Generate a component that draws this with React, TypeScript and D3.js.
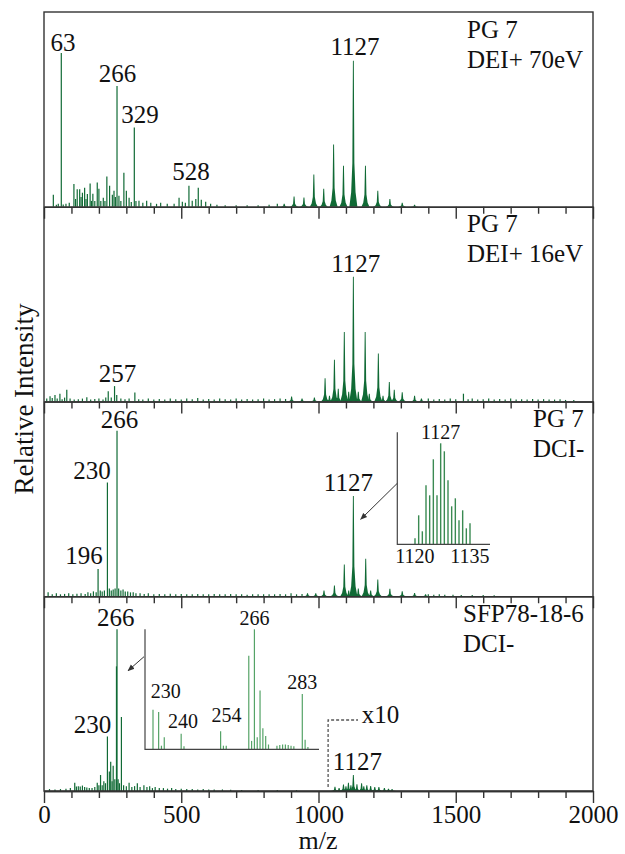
import { useEffect, useRef } from "react";
import * as d3 from "d3";

// [m/z, intensity as % of panel height]
const p1Lines = [[34,6.2],[45,1],[52,1.5],[63,79],[70,1.2],[80,1.5],[92,2],[109,11.7],[115,4],[121,9],[130,9],[135,5],[140,7.2],[148,9.8],[153,4],[158,6.5],[168,11.9],[173,3],[178,6.7],[185,3],[194,12.4],[200,9.3],[207,3],[216,4.6],[222,3],[229,15.5],[239,10.8],[249,6.2],[255,8.2],[260,5],[266,62],[273,5.7],[280,3],[291,17.4],[300,8.2],[310,4.6],[318,2.5],[329,40.7],[335,3],[346,3.1],[360,2],[374,3.1],[389,2],[410,1.5],[425,2],[449,1.5],[474,1.5],[492,4.6],[504,2.6],[515,2],[528,10.8],[540,3.1],[553,4],[562,9.8],[573,3.6],[589,2.6],[607,1.5],[630,1],[660,0.8],[700,0.8],[740,0.8],[780,0.8],[820,1],[850,1.5]];
const p1Cluster = [[875,1.5],[911,5.3],[947,4.8],[983,16.5],[1019,9.3],[1055,32],[1091,21],[1127,75],[1171,21],[1216,8.2],[1260,4],[1305,2],[1350,1]];

const p2Lines = [[10,1.5],[22,2.7],[30,1.8],[40,3.4],[48,1.5],[58,4],[66,1.2],[75,2],[83,6],[95,1.5],[110,1],[125,1.2],[140,1.5],[156,2.2],[170,1],[185,1.3],[200,1.5],[215,1],[225,2],[234,5.2],[245,2],[257,7.9],[265,3.4],[280,1.5],[295,1.2],[310,1.5],[331,4.6],[345,1.2],[360,1],[380,1.5],[400,1],[420,1.3],[440,1],[460,1.5],[480,1.2],[500,1],[520,1.5],[540,1.2],[560,1.8],[580,1],[600,1.3],[620,1],[640,1.5],[660,1.2],[680,1],[700,1.5],[720,1],[740,1.3],[760,1],[780,1.2],[800,1.5],[820,1],[840,1.2],[860,1.5],[880,1.3],[1400,1.5],[1420,1],[1440,1.3],[1460,1],[1480,1.5],[1500,1.2],[1528,4],[1545,1.2],[1560,1.5],[1580,1],[1600,1.2],[1620,1.5],[1640,1],[1660,1.3],[1680,1],[1700,1.5],[1720,1],[1740,1.2],[1760,1],[1780,1.3],[1800,1],[1820,1.2],[1840,1],[1860,1],[1880,1.2],[1900,0.8],[1930,0.8]];
const p2Cluster = [[902,2.6],[940,1.5],[985,2],[1024,12],[1040,3],[1058,21.5],[1072,6.5],[1094,35.7],[1110,5],[1127,64],[1145,5],[1170,35.7],[1185,4],[1218,24.6],[1235,3],[1258,10],[1276,6],[1305,4.8],[1350,3],[1375,1.5]];

const p3Lines = [[15,2],[30,1],[45,1.5],[60,1],[75,1.2],[90,1.5],[105,1],[120,1.3],[135,1.5],[150,1.2],[160,2],[170,1.5],[180,2.5],[190,2],[197,14],[205,3],[212,2.5],[220,3],[231,58.4],[238,4],[245,3],[252,3.5],[259,4],[266,85],[272,4],[280,3],[288,3.5],[296,2.5],[305,2.5],[315,2],[325,2],[335,1.5],[350,1.5],[365,1.2],[380,1.5],[400,1],[420,1.2],[440,1],[460,1.3],[480,1],[500,1.2],[520,1],[540,1],[560,1.2],[580,1],[600,1],[620,1.2],[640,1],[660,1],[680,1.2],[700,1],[720,1],[740,0.8],[760,1],[780,1],[800,1],[820,1],[840,1],[860,1.2],[880,1],[900,1.5],[920,1],[940,1.2],[1400,1],[1420,0.8],[1440,1],[1460,0.8],[1490,0.8],[1520,0.6],[1560,0.6],[1600,0.6],[1640,0.5]];
const p3Cluster = [[960,1.5],[990,1.5],[1020,3],[1058,5.5],[1094,16.3],[1110,3],[1127,51.5],[1145,4],[1172,19.2],[1190,3],[1216,8.6],[1260,3.8],[1305,2.6],[1350,1.7],[1390,1]];
const p3Inset = [[1120,6],[1121,29],[1122,13],[1123,59],[1124,49],[1125,85],[1126,49],[1127,101],[1128,93],[1129,64],[1130,38],[1131,46],[1132,24],[1133,34],[1134,16],[1135,21]];

const p4Lines = [[20,1],[40,0.8],[60,1],[80,1.2],[96,1.5],[112,4.3],[118,2.3],[125,2.5],[132,2.3],[140,2.8],[148,2],[156,1.8],[165,1.5],[175,1.5],[185,2],[194,4.3],[200,3],[206,8.2],[212,3],[218,5],[224,4],[231,28],[238,10],[243,15],[248,5],[252,13],[258,6],[264,64],[266,83],[270,6],[275,4],[282,38],[290,3],[300,2.5],[310,4.3],[320,2],[330,2.5],[340,4],[350,2],[364,3],[375,2],[385,2.5],[395,1.5],[405,2],[420,1.5],[435,1.5],[450,1.2],[465,1.5],[480,1],[500,1.2],[520,1],[540,1],[560,0.8],[580,1],[600,0.8],[620,0.8],[650,0.8],[680,0.6],[720,0.5],[780,0.5],[850,0.5],[920,0.5]];
const p4Cluster = [[1060,2.2],[1075,1.5],[1091,3.4],[1100,2.5],[1109,4.3],[1118,3],[1127,8.2],[1140,3.5],[1157,4],[1165,2.5],[1176,3],[1190,2.6],[1205,2],[1220,2],[1240,1.5],[1255,1.2],[1268,1]];
const p4Inset = [[230,33],[232,31],[233,3],[234,10],[240,13],[241,2.5],[254,15],[255,3],[256,3],[264,78],[265,7],[266,100],[267,10],[268,49],[269,17.5],[270,11],[271,4],[274,3],[275,3.5],[276,4],[277,4],[278,3.5],[279,3],[280,2.5],[283,46],[284,8],[285,2]];

const majorTicks = [0, 500, 1000, 1500, 2000];
const minorStep = 100;
const inset3Ticks = [1120, 1135];

const panels = [
  { lines: p1Lines, cluster: p1Cluster, title: ["PG 7", "DEI+ 70eV"], titleX: 467,
    labels: [["63", 63, 1.7, 2], ["266", 266, 0.5, 4], ["329", 329, 5.7, 4], ["528", 528, 2, 6], ["1127", 1127, 1.6, 6]] },
  { lines: p2Lines, cluster: p2Cluster, title: ["PG 7", "DEI+ 16eV"], titleX: 467,
    labels: [["257", 257, 3, 4.5], ["1127", 1127, 2.4, 5]] },
  { lines: p3Lines, cluster: p3Cluster, title: ["PG 7", "DCI-"], titleX: 533,
    labels: [["266", 266, 2.5, 2.5], ["230", 231, -15.4, 4], ["196", 197, -14, 4.5], ["1127", 1127, -5, 4.5]] },
  { lines: p4Lines, cluster: p4Cluster, title: ["SFP78-18-6", "DCI-"], titleX: 463,
    labels: [["266", 266, -1.3, 3], ["230", 231, -15, 3.2], ["1127", 1127, 4, 5]] },
];

const GREEN = "#106a35";
const FONT = "'Liberation Serif', 'Times New Roman', Times, serif";

export default function App() {
  const svgRef = useRef<SVGSVGElement>(null);

  useEffect(() => {
    const svg = d3.select(svgRef.current);
    svg.selectAll("*").remove();

    const left = 44, right = 593, top = 12, bottom = 791;
    const panelH = (bottom - top) / panels.length;
    const x = d3.scaleLinear().domain([0, 2000]).range([left, right]);
    const minorTicks = d3.range(0, 2001, minorStep).filter(v => !majorTicks.includes(v));

    svg.append("defs").append("marker")
      .attr("id", "arr").attr("viewBox", "0 0 10 10").attr("refX", 9).attr("refY", 5)
      .attr("markerWidth", 7).attr("markerHeight", 7).attr("orient", "auto")
      .append("path").attr("d", "M0,1 L10,5 L0,9 Z").attr("fill", "#333");

    // spike with a broadened foot, as the oligomer peaks look in the spectra
    const peakLine = d3.line();
    const peakPath = (cx: number, base: number, tip: number) => {
      const h = base - tip;
      return peakLine([
        [cx - 4, base], [cx - 2.2, base - h * 0.1], [cx - 1, base - h * 0.3],
        [cx - 0.45, tip], [cx + 0.45, tip], [cx + 1, base - h * 0.3],
        [cx + 2.2, base - h * 0.1], [cx + 4, base],
      ]) + "Z";
    };

    panels.forEach((p, i) => {
      const y0 = top + i * panelH, y1 = y0 + panelH;
      const y = d3.scaleLinear().domain([0, 100]).range([y1, y0]);
      const g = svg.append("g");

      g.append("g").selectAll("line").data(p.lines).join("line")
        .attr("x1", d => x(d[0])).attr("x2", d => x(d[0]))
        .attr("y1", y(0)).attr("y2", d => y(d[1]))
        .attr("stroke", GREEN).attr("stroke-width", 1.2);

      g.append("g").selectAll("path").data(p.cluster).join("path")
        .attr("d", d => peakPath(x(d[0]), y(0), y(d[1])))
        .attr("fill", GREEN);

      const all = [...p.lines, ...p.cluster];
      g.append("g").selectAll("text").data(p.labels).join("text")
        .attr("x", d => x(d[1] as number) + (d[2] as number))
        .attr("y", d => {
          const v = d3.max(all.filter(a => a[0] === d[1]), a => a[1]) || 0;
          return y(v) - (d[3] as number);
        })
        .attr("text-anchor", "middle")
        .text(d => d[0] as string);

      g.append("g").selectAll("text").data(p.title).join("text")
        .attr("x", p.titleX).attr("y", (_, k) => y0 + 25.5 + k * 30)
        .text(d => d);

      const minorAxis = d3.axisBottom(x).tickValues(minorTicks).tickSize(7).tickSizeOuter(0).tickFormat(() => "");
      const majorAxis = d3.axisBottom(x).tickValues(majorTicks).tickSize(12).tickSizeOuter(0).tickPadding(2)
        .tickFormat(i === panels.length - 1 ? d3.format("d") : () => "");
      const ga = g.append("g").attr("transform", `translate(0,${y1})`);
      ga.append("g").call(minorAxis);
      ga.append("g").call(majorAxis);
      ga.selectAll("g").attr("font-family", null).attr("font-size", null);
      ga.selectAll("path,line").attr("stroke", "#333").attr("stroke-width", 1.4);
      ga.selectAll("text").attr("fill", "#111");
    });

    // frame
    svg.append("rect").attr("x", left).attr("y", top).attr("width", right - left).attr("height", bottom - top)
      .attr("fill", "none").attr("stroke", "#333").attr("stroke-width", 1.4);

    // inset in panel 3
    const ix3 = d3.scaleLinear().domain([1120, 1135]).range([415, 470]);
    const iy3 = d3.scaleLinear().domain([0, 112]).range([544.3, 432.3]);
    const g3 = svg.append("g");
    g3.selectAll("line.bar").data(p3Inset).join("line")
      .attr("x1", d => ix3(d[0])).attr("x2", d => ix3(d[0]))
      .attr("y1", iy3(0)).attr("y2", d => iy3(d[1]))
      .attr("stroke", "#3a8a52").attr("stroke-width", 1.4);
    g3.append("path").attr("d", `M397.3,${iy3(112)} V${iy3(0)} H490`)
      .attr("fill", "none").attr("stroke", "#444").attr("stroke-width", 1.2);
    g3.selectAll("text.tk").data(inset3Ticks).join("text")
      .attr("x", d => ix3(d)).attr("y", 563.3).attr("text-anchor", "middle")
      .attr("class", "small").text(d => d);
    g3.append("text").attr("x", ix3(1127)).attr("y", iy3(101) - 4.3)
      .attr("text-anchor", "middle").attr("class", "small").text("1127");
    g3.append("line").attr("x1", 397.3).attr("y1", 483.3).attr("x2", 360.7).attr("y2", 519.3)
      .attr("stroke", "#333").attr("stroke-width", 1).attr("marker-end", "url(#arr)");

    // inset in panel 4
    const ix4 = d3.scaleLinear().domain([230, 283]).range([153, 302.3]);
    const iy4 = d3.scaleLinear().domain([0, 100]).range([749.3, 629.3]);
    const g4 = svg.append("g");
    g4.selectAll("line.bar").data(p4Inset).join("line")
      .attr("x1", d => ix4(d[0])).attr("x2", d => ix4(d[0]))
      .attr("y1", iy4(0)).attr("y2", d => iy4(d[1]))
      .attr("stroke", "#55a367").attr("stroke-width", 1.2);
    g4.append("path").attr("d", `M145,${iy4(100)} V${iy4(0)} H319`)
      .attr("fill", "none").attr("stroke", "#444").attr("stroke-width", 1.2);
    const inset4Labels: [string, number, number, number][] = [["230", 230, 12.7, 11.4], ["240", 240, 1.8, 5.4], ["254", 254, 6, 9.6], ["266", 266, 0, 4.3], ["283", 283, 0, 4.8]];
    g4.selectAll("text").data(inset4Labels).join("text")
      .attr("x", d => ix4(d[1]) + d[2])
      .attr("y", d => iy4(p4Inset.find(a => a[0] === d[1])![1]) - d[3])
      .attr("text-anchor", "middle").attr("class", "small").text(d => d[0]);
    g4.append("line").attr("x1", 144).attr("y1", 656.7).attr("x2", 128).attr("y2", 670.7)
      .attr("stroke", "#333").attr("stroke-width", 1).attr("marker-end", "url(#arr)");

    // x10 marker
    svg.append("path").attr("d", `M${x(1035)},787 V720 H358`)
      .attr("fill", "none").attr("stroke", "#555").attr("stroke-width", 1.3).attr("stroke-dasharray", "3,2");
    svg.append("text").attr("x", 361.7).attr("y", 723.3).text("x10");

    // axis titles
    svg.append("text").attr("transform", "translate(33,399) rotate(-90)")
      .attr("text-anchor", "middle").attr("class", "ytitle").text("Relative Intensity");
    svg.append("text").attr("x", 318).attr("y", 849).attr("text-anchor", "middle")
      .attr("class", "xtitle").text("m/z");
  }, []);

  return (
    <>
      <style>{`
        svg.spec text { font-family: ${FONT}; font-size: 25px; fill: #111; }
        svg.spec text.small { font-size: 20px; }
        svg.spec text.ytitle { font-size: 27px; }
        svg.spec text.xtitle { font-size: 26px; }
      `}</style>
      <svg ref={svgRef} className="spec" width={625} height={854}
        style={{ position: "absolute", left: 0, top: 0, background: "#fff" }} />
    </>
  );
}
